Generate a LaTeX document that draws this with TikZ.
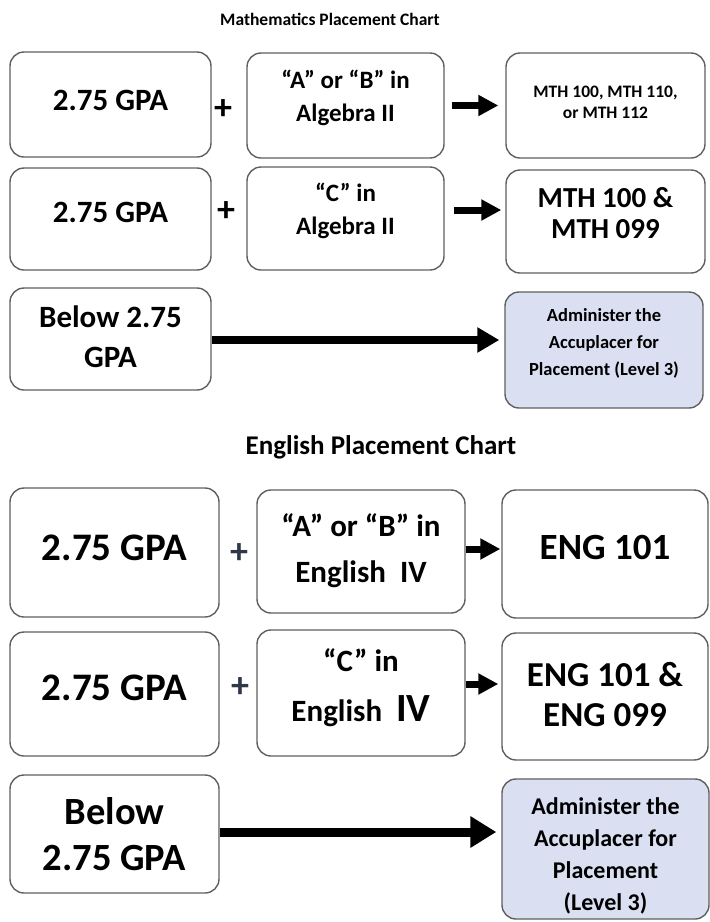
\documentclass[tikz,border=0pt]{standalone}
\usepackage{fontspec}
\setmainfont{Carlito}
\usepackage{tikz}
\usetikzlibrary{arrows.meta}
\definecolor{boxline}{RGB}{95,95,95}
\definecolor{lavender}{RGB}{218,224,241}
\definecolor{plusgray}{RGB}{48,55,72}

\begin{document}
\begin{tikzpicture}[x=1pt,y=-1pt,
        box/.style={draw=boxline,line width=1.4pt,rounded corners=14pt,align=center,inner sep=0pt,text depth=0pt},
        pick/.style={box,fill=lavender},
        plus/.style={inner sep=0pt,font=\bfseries\fontsize{36}{36}\selectfont},
        goes/.style={line width=7pt,-{Triangle[length=20pt,width=20pt]}}]
                \useasboundingbox (0,0) rectangle (710,922);

                \node[font=\bfseries\fontsize{17.5}{20}\selectfont] (MT) at (330,19) {Mathematics Placement Chart};

                \node[box,minimum width=201pt,minimum height=105pt,text height=11pt,font=\bfseries\fontsize{31}{38}\selectfont] (MA1) at (110.5,104.5) {2.75 GPA};
                \node[box,minimum width=197pt,minimum height=105pt,text height=31pt,font=\bfseries\fontsize{25}{33}\selectfont] (MA2) at (345.5,105.5) {``A'' or ``B'' in\\Algebra II};
                \node[box,minimum width=199pt,minimum height=105pt,text height=26pt,font=\bfseries\fontsize{17.5}{21}\selectfont] (MA3) at (605.5,105.5) {MTH 100, MTH 110,\\or MTH 112};

                \node[box,minimum width=201pt,minimum height=102pt,text height=7.6pt,font=\bfseries\fontsize{31}{38}\selectfont] (MB1) at (110.5,219) {2.75 GPA};
                \node[box,minimum width=197pt,minimum height=103pt,text height=31pt,font=\bfseries\fontsize{25}{33}\selectfont] (MB2) at (345.5,218.5) {``C'' in\\Algebra II};
                \node[box,minimum width=199pt,minimum height=103pt,text height=33pt,font=\bfseries\fontsize{29}{31}\selectfont] (MB3) at (605.5,221.5) {MTH 100 \&\\MTH 099};

                \node[box,minimum width=201pt,minimum height=102pt,text height=57.6pt,font=\bfseries\fontsize{31}{40}\selectfont] (MC1) at (110.5,339) {Below 2.75\\GPA};
                \node[pick,minimum width=198pt,minimum height=116pt,text height=51.6pt,font=\bfseries\fontsize{18.5}{27}\selectfont] (MC3) at (604,350) {Administer the\\Accuplacer for\\Placement (Level 3)};

                \node[plus] (MP1) at (223,110) {+};
                \node[plus] (MP2) at (226,212) {+};

                \draw[goes,shorten <=7pt,shorten >=7pt] (MA2) -- (MA3);
                \draw[goes,shorten <=9pt,shorten >=4pt] ([yshift=8.5pt]MB2.east) -- ([yshift=11.5pt]MB3.west);
                \draw[goes,line width=8pt,-{Triangle[length=22pt,width=24pt]},shorten >=5pt] ([yshift=-1pt]MC1.east) -- ([yshift=10pt]MC3.west);

                \node[font=\bfseries\fontsize{27}{30}\selectfont] (ET) at (381,447) {English Placement Chart};

                \node[box,minimum width=209pt,minimum height=129pt,text height=15.6pt,font=\bfseries\fontsize{39}{46}\selectfont] (EA1) at (114.5,552.5) {2.75 GPA};
                \node[box,minimum width=208pt,minimum height=123pt,text height=62.6pt,font=\bfseries\fontsize{31}{46}\selectfont] (EA2) at (361,551.5) {``A'' or ``B'' in\\English~ IV};
                \node[box,minimum width=206pt,minimum height=128pt,text height=11.4pt,font=\bfseries\fontsize{37}{44}\selectfont] (EA3) at (605,554) {ENG 101};

                \node[box,minimum width=209pt,minimum height=124pt,text height=12.6pt,font=\bfseries\fontsize{39}{46}\selectfont] (EB1) at (114.5,694) {2.75 GPA};
                \node[box,minimum width=208pt,minimum height=126pt,text height=57.6pt,font=\bfseries\fontsize{31}{50}\selectfont] (EB2) at (361,693) {``C'' in\\English~ {\fontsize{40}{46}\selectfont IV}};
                \node[box,minimum width=206pt,minimum height=127pt,text height=59pt,font=\bfseries\fontsize{35}{40}\selectfont] (EB3) at (605,696.5) {ENG 101 \&\\ENG 099};

                \node[box,minimum width=209pt,minimum height=118pt,text height=72pt,font=\bfseries\fontsize{38.5}{46}\selectfont] (EC1) at (114.5,834) {Below\\2.75 GPA};
                \node[pick,minimum width=207pt,minimum height=140pt,text height=123pt,font=\bfseries\fontsize{24}{32}\selectfont] (EC3) at (605.5,849) {Administer the\\Accuplacer for\\Placement\\(Level 3)};

                \node[plus,text=plusgray] (EP1) at (239,554) {+};
                \node[plus,text=plusgray] (EP2) at (240,688) {+};

                \draw[goes,shorten >=1pt] ([yshift=2.5pt]EA2.east) -- ([yshift=5pt]EA3.west);
                \draw[goes,shorten >=3pt] ([yshift=9pt]EB2.east) -- ([yshift=12.5pt]EB3.west);
                \draw[goes,line width=9pt,-{Triangle[length=26pt,width=30pt]},shorten >=5pt] ([yshift=2pt]EC1.east) -- ([yshift=17pt]EC3.west);
            \end{tikzpicture}
\end{document}
